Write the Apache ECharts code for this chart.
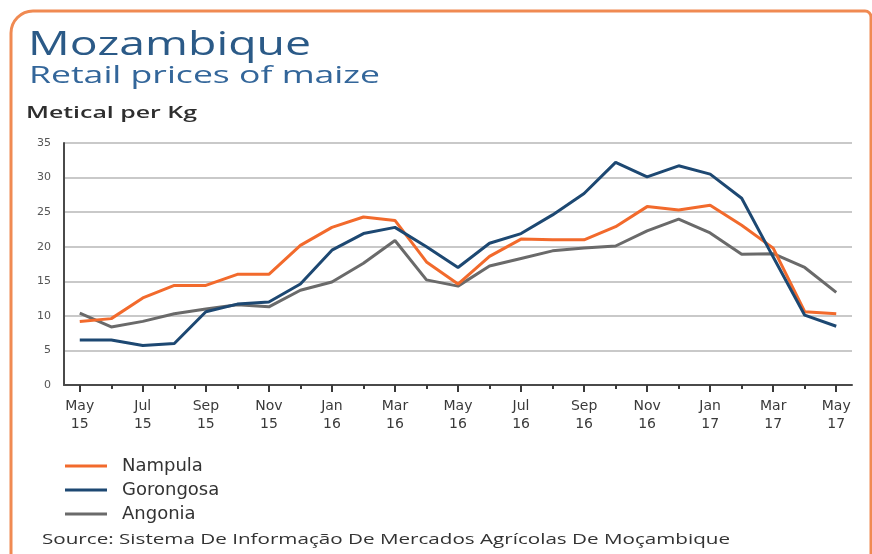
<!doctype html>
<html>
<head>
    <meta charset="utf-8">
    <title>Mozambique - Retail prices of maize</title>
    <script src="https://cdn.jsdelivr.net/npm/echarts@6/dist/echarts.min.js"></script>
    <style>
        html, body { margin: 0; padding: 0; background: #fff; }
        #Chart { width: 872px; height: 554px; }
    </style>
</head>
<body>
    <div id="Chart"></div>
<script>
    // monthly, May 2015 - May 2017
    var months = ['May\n15', 'Jun\n15', 'Jul\n15', 'Aug\n15', 'Sep\n15', 'Oct\n15', 'Nov\n15', 'Dec\n15',
        'Jan\n16', 'Feb\n16', 'Mar\n16', 'Apr\n16', 'May\n16', 'Jun\n16', 'Jul\n16', 'Aug\n16', 'Sep\n16',
        'Oct\n16', 'Nov\n16', 'Dec\n16', 'Jan\n17', 'Feb\n17', 'Mar\n17', 'Apr\n17', 'May\n17'];
    var nampula = [9.2, 9.6, 12.6, 14.4, 14.4, 16.0, 16.0, 20.2, 22.8, 24.3, 23.8, 17.8, 14.6,
        18.6, 21.1, 21.0, 21.0, 22.9, 25.8, 25.3, 26.0, 23.1, 19.8, 10.6, 10.3];
    var gorongosa = [6.5, 6.5, 5.7, 6.0, 10.6, 11.7, 12.0, 14.6, 19.5, 21.9, 22.8, 20.0, 17.0,
        20.5, 21.9, 24.6, 27.7, 32.2, 30.1, 31.7, 30.5, 27.0, 18.5, 10.1, 8.5];
    var angonia = [10.4, 8.4, 9.2, 10.3, 11.0, 11.6, 11.3, 13.7, 14.9, 17.6, 20.9, 15.2, 14.3,
        17.2, 18.3, 19.4, 19.8, 20.1, 22.3, 24.0, 22.0, 18.9, 19.0, 17.0, 13.4];
    var yTicks = [0, 5, 10, 15, 20, 25, 30, 35];

    var FONT = '"Open Sans", "Noto Sans", sans-serif';

    // the reference is drawn horizontally stretched, so free texts get a scaleX to fit their width
    var measureCtx = document.createElement('canvas').getContext('2d');
    function stretchText(text, font, x, y, width, color) {
        measureCtx.font = font;
        var w = measureCtx.measureText(text).width;
        return {
            type: 'text',
            x: x,
            y: y,
            scaleX: width / w,
            style: {
                text: text,
                font: font,
                fill: color,
                align: 'left',
                textAlign: 'left',
                verticalAlign: 'middle',
                textVerticalAlign: 'middle'
            }
        };
    }

    var myChart = echarts.init(document.getElementById('Chart'), null, { renderer: 'canvas' });
    var option = {
        backgroundColor: '#ffffff',
        animation: false,
        color: ['#f26a2c', '#1d4872', '#6a6a6a'],
        graphic: [
            {
                type: 'rect',
                shape: { x: 11, y: 11, width: 860, height: 570, r: [22, 6, 0, 0] },
                style: { fill: 'none', stroke: '#f08a52', lineWidth: 3 }
            },
            stretchText('Mozambique', '33px ' + FONT, 28, 46, 283, '#2b5a87'),
            stretchText('Retail prices of maize', '24px ' + FONT, 29, 76.5, 351, '#33669a'),
            stretchText('Metical per Kg', '600 16px ' + FONT, 26, 113.5, 171, '#2e2e2e'),
            stretchText('Source: Sistema De Informação De Mercados Agrícolas De Moçambique', '14px ' + FONT, 42, 540.5, 688, '#333333')
        ],
        grid: {
            left: 64,
            right: 20,
            top: 143,
            bottom: 169
        },
        legend: {
            orient: 'vertical',
            left: 60,
            top: 452,
            icon: 'rect',
            itemWidth: 42,
            itemHeight: 3,
            itemGap: 6,
            textStyle: {
                fontFamily: '"DejaVu Sans", sans-serif',
                fontSize: 18,
                color: '#333333',
                padding: [0, 0, 0, 10]
            },
            data: ['Nampula', 'Gorongosa', 'Angonia']
        },
        xAxis: [
            {
                type: 'category',
                data: months,
                boundaryGap: true,
                axisLine: { lineStyle: { color: '#4a4a4a', width: 2 } },
                axisTick: {
                    show: true,
                    alignWithLabel: true,
                    interval: 0,
                    length: 4,
                    lineStyle: { color: '#3a3a3a', width: 2 }
                },
                axisLabel: {
                    interval: 1,
                    margin: 12,
                    fontFamily: '"DejaVu Sans", sans-serif',
                    fontSize: 14,
                    lineHeight: 18,
                    color: '#3a3a3a'
                }
            },
            {
                type: 'category',
                data: months,
                position: 'bottom',
                boundaryGap: true,
                axisLine: { show: false },
                axisTick: {
                    show: true,
                    alignWithLabel: true,
                    interval: 1,
                    length: 7,
                    lineStyle: { color: '#3a3a3a', width: 2 }
                },
                axisLabel: { show: false }
            }
        ],
        yAxis: {
            type: 'value',
            min: yTicks[0],
            max: yTicks[yTicks.length - 1],
            interval: 5,
            axisLine: { show: true, lineStyle: { color: '#4a4a4a', width: 2 } },
            axisTick: { show: false },
            axisLabel: {
                margin: 13,
                fontFamily: '"DejaVu Sans", sans-serif',
                fontSize: 11,
                color: '#555555'
            },
            splitLine: { lineStyle: { color: '#c9c9c9', width: 2 } }
        },
        series: [
            {
                name: 'Nampula',
                type: 'line',
                data: nampula,
                symbol: 'none',
                lineStyle: { width: 3 },
                z: 3
            },
            {
                name: 'Gorongosa',
                type: 'line',
                data: gorongosa,
                symbol: 'none',
                lineStyle: { width: 3 },
                z: 4
            },
            {
                name: 'Angonia',
                type: 'line',
                data: angonia,
                symbol: 'none',
                lineStyle: { width: 3 },
                z: 2
            }
        ]
    };
    myChart.setOption(option);
</script>
</body>
</html>
